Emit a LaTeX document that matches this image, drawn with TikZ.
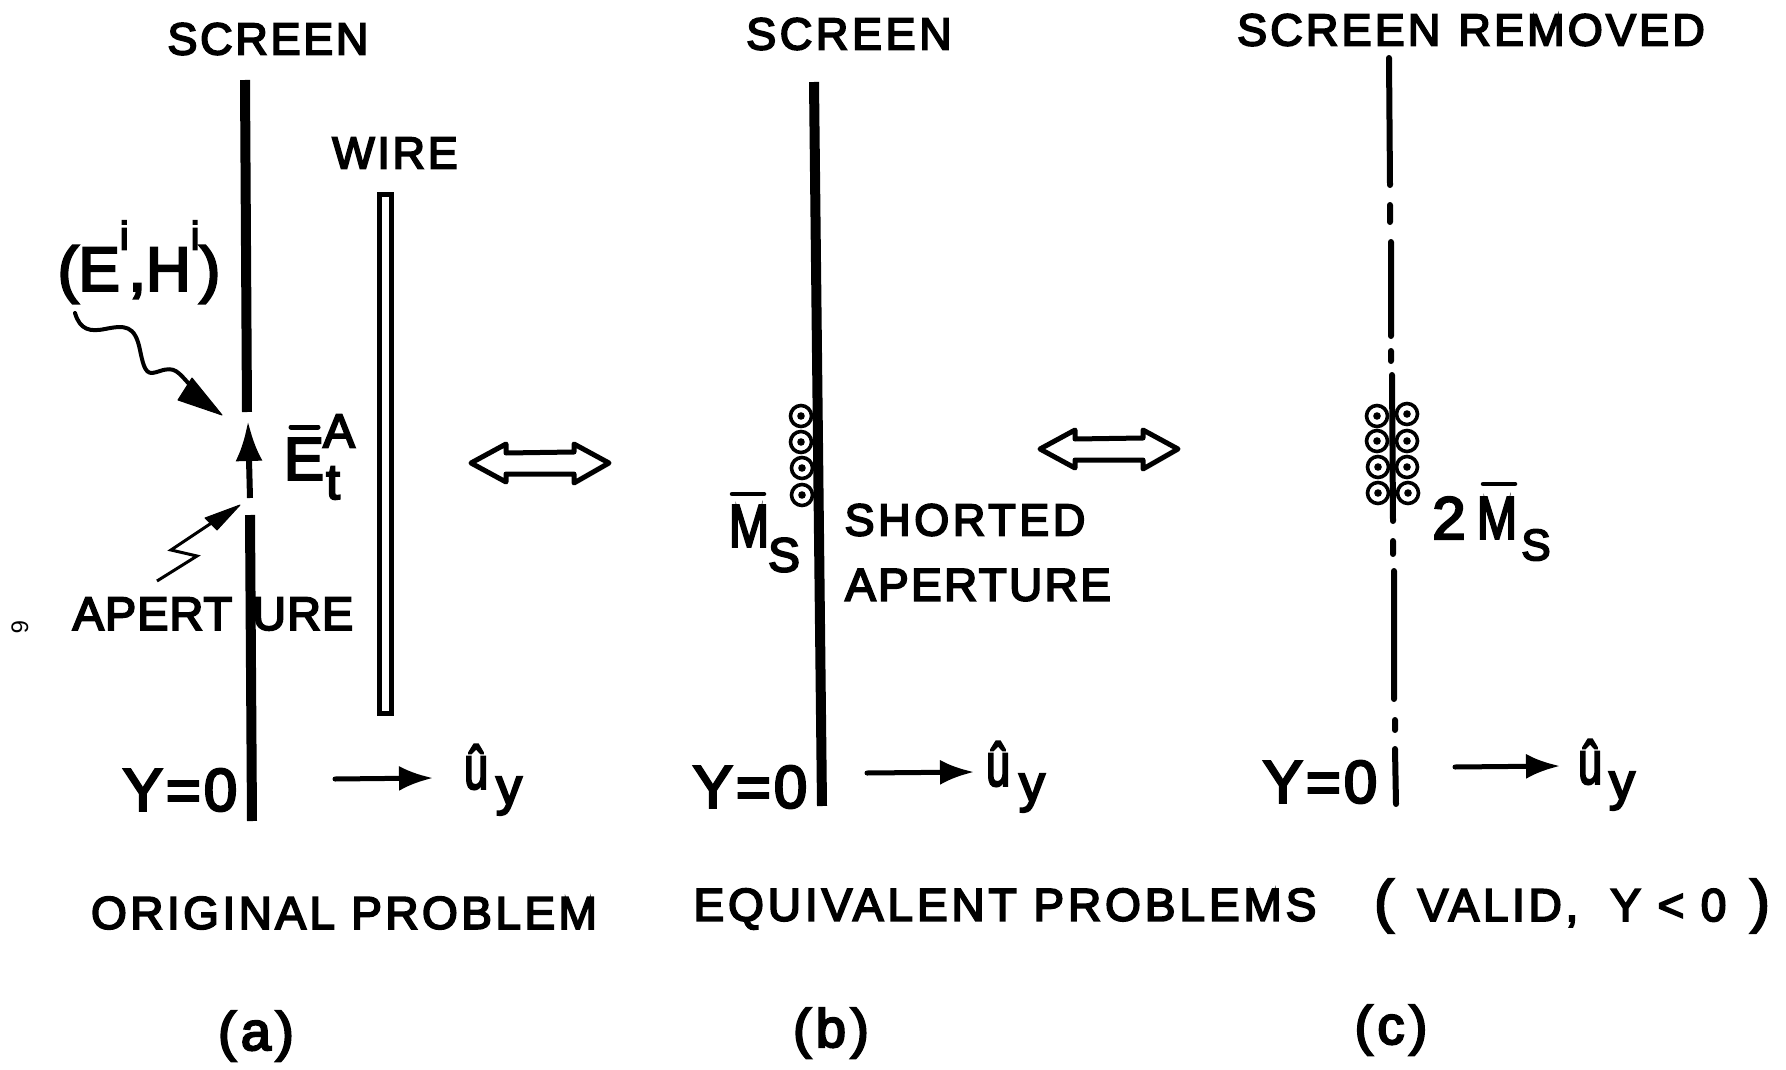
\documentclass[tikz,border=0pt]{standalone}
\usepackage{fontspec}
\setmainfont{Liberation Sans}[FakeBold=4]
\usetikzlibrary{arrows.meta}
\newcommand{\fs}[2]{\fontsize{#1}{#1}\selectfont\addfontfeature{LetterSpace=#2}}
\newcommand{\yzero}{Y\kern3pt=\kern3pt 0}
\tikzset{
  every node/.style={inner sep=0pt,outer sep=0pt,anchor=center},
  caps/.style={font=\fs{45}{6}},
  big/.style={font=\fs{60}{0}},
  subs/.style={font=\fs{52}{0}},
  scr/.style={line width=10pt},
  scrc/.style={line width=6pt,line cap=round},
  bar/.style={line width=4.5pt,line cap=round},
  uarrow/.style={line width=5pt,line cap=round,-{Latex[length=34pt,width=25pt]}},
  dbl/.style={line width=5pt,line join=round,fill=white},
  curr/.style={line width=3.6pt,fill=white},
  wave/.style={line width=4pt,line cap=round},
  thin/.style={line width=3pt},
  tipfill/.style={fill=black,line width=1pt,draw=black,line join=round},
}
\newcommand{\dblarrow}[2]{%
  \draw[dbl] (#1-69,#2) -- (#1-34,#2-19) -- (#1-34,#2-10) -- (#1+34,#2-11) -- (#1+34,#2-19) -- (#1+69,#2) -- (#1+34,#2+20) -- (#1+34,#2+11) -- (#1-34,#2+11) -- (#1-34,#2+19) -- cycle;}
\newcommand{\curcle}[2]{%
  \draw[curr] (#1,#2) circle[radius=10.5pt];
  \fill (#1,#2) circle[radius=3.8pt];}
\newcommand{\uhat}{\scalebox{.8}[1.12]{û}}
\begin{document}
\begin{tikzpicture}[x=1pt,y=-1pt]
\useasboundingbox[fill=white] (0,0) rectangle (1786,1070);

% ---- panel (a)
\node[caps] (screenA) at (268,39) {SCREEN};
\node[caps,font=\fs{45}{6}] (wireL) at (395,153) {WIRE};
\coordinate (a1) at (245,80); \coordinate (a2) at (247,412);
\coordinate (a3) at (250,515); \coordinate (a4) at (252,821);
\draw[scr] (a1) -- (a2);
\draw[scr] (a3) -- (a4);
\draw[line width=5pt] (379,194) rectangle (391,713);
\node[font=\fs{62}{0}] (inc) at (139,262) {(E\raisebox{.66em}{\fontsize{40}{40}\selectfont i},H\raisebox{.66em}{\fontsize{40}{40}\selectfont i})};
\coordinate (w0) at (75,313);
\coordinate (w1) at (190,385);
\draw[wave] (w0) .. controls (80,330) and (90,332) .. (105,329)
   .. controls (125,325) and (135,325) .. (140,350)
   .. controls (145,375) and (148,375) .. (160,371)
   .. controls (175,366) and (178,372) .. (w1);
\fill[tipfill] (222,415) -- (192,378) -- (178,400) -- cycle;
\coordinate (ar0) at (250,498); \coordinate (ar1) at (248,421);
\draw[line width=6pt,-{Latex[length=40pt,width=27pt]}] (ar0) -- (ar1);
\node[big] (Et) at (304,459) {E};
\draw[bar,line width=5pt] (291,427) -- (318,427);
\node[font=\fs{48}{0}] (EtA) at (339,431) {A};
\node[font=\fs{50}{0}] (Ett) at (333,483) {t};
\coordinate (z0) at (157,581); \coordinate (z1) at (197,556); \coordinate (z2) at (171,550); \coordinate (z3) at (225,514);
\draw[thin] (z0) -- (z1) -- (z2) -- (z3);
\fill[tipfill] (240,505) -- (205,518) -- (217,530) -- cycle;
\node[font=\fs{47}{2}] (apA) at (213,614) {APERT\hspace{20pt}URE};
\node[big] (y0a) at (180,790) {\yzero};
\coordinate (ua0) at (335,779); \coordinate (ua1) at (433,778);
\draw[uarrow] (ua0) -- (ua1);
\node[font=\fs{54}{0}] (ua) at (476,767) {\uhat};
\node[subs] (uay) at (509,796) {y};
\node[font=\fs{46}{7.5}] (orig) at (344,913) {ORIGINAL PROBLEM};
\node[font=\fs{54}{9}] (capa) at (256,1036) {(a)};
\node[font=\fontsize{24}{24}\selectfont\addfontfeature{FakeBold=0},rotate=-90] (pg) at (20,627) {6};
\dblarrow{540}{463}

% ---- panel (b)
\node[font=\fs{45}{8}] (screenB) at (849,34) {SCREEN};
\coordinate (b1) at (814,82); \coordinate (b2) at (822,806);
\draw[scr] (b1) -- (b2);
\curcle{801}{416}\curcle{801}{442}\curcle{802}{468}\curcle{802}{495}
\node[big] (Mb) at (749,526) {\scalebox{.8}[1]{M}};
\draw[bar] (732,494) -- (764,494);
\node[font=\fs{48}{0}] (Sb) at (784,555) {S};
\node[font=\fs{45}{8}] (short) at (965,520) {SHORTED};
\node[font=\fs{46}{5}] (apB) at (978,585) {APERTURE};
\node[big] (y0b) at (750,787) {\yzero};
\coordinate (ub0) at (867,773); \coordinate (ub1) at (974,772);
\draw[uarrow] (ub0) -- (ub1);
\node[font=\fs{54}{0}] (ub) at (998,764) {\uhat};
\node[subs] (uby) at (1032,793) {y};
\dblarrow{1109}{449}
\node[font=\fs{46}{8.5}] (eqv) at (1005,909) {EQUIVALENT PROBLEMS};
\node[font=\fs{46}{8}] (valid) at (1572,906) {{\fontsize{58}{58}\selectfont(}\hspace{24pt}VALID,\hspace{32pt}Y < 0\hspace{24pt}{\fontsize{58}{58}\selectfont)}};
\node[font=\fs{54}{9}] (capb) at (831,1033) {(b)};

% ---- panel (c)
\node[font=\fs{45}{7}] (screenC) at (1471,30) {SCREEN\hspace{18pt}REMOVED};
\coordinate (c1) at (1389,58); \coordinate (c2) at (1390,185);
\coordinate (c3) at (1390,205); \coordinate (c4) at (1390,222);
\coordinate (c5) at (1391,242); \coordinate (c6) at (1391,336);
\coordinate (c7) at (1391,351); \coordinate (c8) at (1391,361);
\coordinate (c9) at (1392,375); \coordinate (c10) at (1393,521);
\coordinate (c11) at (1393,541); \coordinate (c12) at (1393,554);
\coordinate (c13) at (1394,571); \coordinate (c14) at (1394,699);
\coordinate (c15) at (1395,720); \coordinate (c16) at (1395,730);
\coordinate (c17) at (1395,749); \coordinate (c18) at (1396,804);
\draw[scrc] (c1)--(c2) (c3)--(c4) (c5)--(c6) (c7)--(c8) (c11)--(c12) (c13)--(c14) (c15)--(c16) (c17)--(c18);
\curcle{1377}{416}\curcle{1377}{441}\curcle{1378}{467}\curcle{1378}{493}
\curcle{1407}{414}\curcle{1407}{441}\curcle{1407}{467}\curcle{1408}{493}
\draw[scrc] (c9)--(c10);
\node[big] (two) at (1449,518) {2};
\node[big] (Mc) at (1497,518) {\scalebox{.8}[1]{M}};
\draw[bar] (1483,484) -- (1515,484);
\node[font=\fs{44}{0}] (Sc) at (1536,545) {S};
\node[big] (y0c) at (1320,782) {\yzero};
\coordinate (uc0) at (1455,767); \coordinate (uc1) at (1560,766);
\draw[uarrow] (uc0) -- (uc1);
\node[font=\fs{54}{0}] (uc) at (1590,762) {\uhat};
\node[subs] (ucy) at (1622,791) {y};
\node[font=\fs{54}{9}] (capc) at (1391,1030) {(c)};
\end{tikzpicture}
\end{document}
